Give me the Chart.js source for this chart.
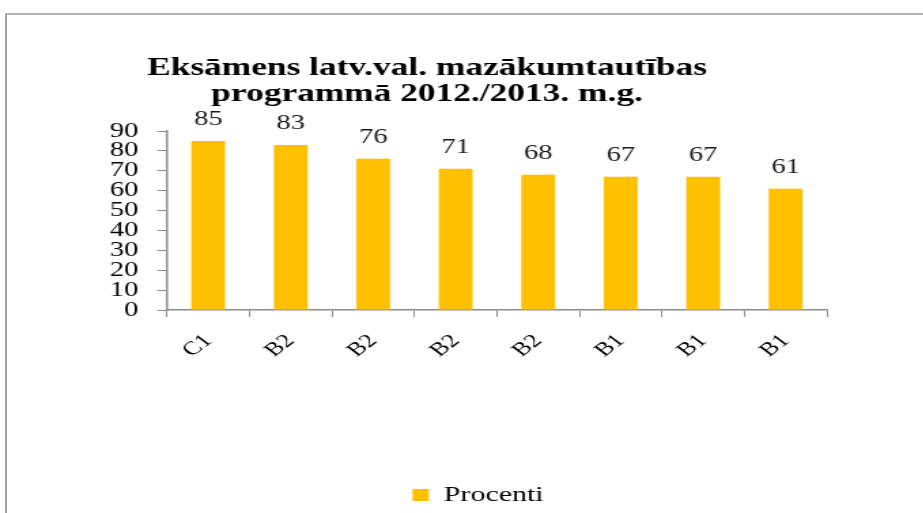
<!DOCTYPE html>
<html>
<head>
<meta charset="utf-8">
<script src="https://cdn.jsdelivr.net/npm/chart.js@4/dist/chart.umd.min.js"></script>
<style>
  html, body { margin: 0; padding: 0; background: #fff; overflow: hidden; }
  #frame { position: absolute; left: 5px; top: 13px; width: 2000px; height: 2000px;
           border-top: 2px solid #b4b4b4; border-left: 2px solid #a0a0a0; }
  #wrap { position: absolute; left: 0; top: 0; width: 679px; height: 513px;
          transform: scaleX(1.36); transform-origin: 0 0; }
</style>
</head>
<body>
<div id="frame"></div>
<div id="wrap"><canvas id="chart" width="679" height="513"></canvas></div>
<script>
  // dati no attēla
  const categories = ['C1', 'B2', 'B2', 'B2', 'B2', 'B1', 'B1', 'B1'];
  const procenti = [85, 83, 76, 71, 68, 67, 67, 61];
  const titleLines = ['Eksāmens latv.val. mazākumtautības', 'programmā 2012./2013. m.g.'];
  const seriesName = 'Procenti';

  const serif = '"Liberation Serif", "Times New Roman", serif';

  // virsraksts
  const titlePlugin = {
    id: 'titleText',
    afterDraw(chart) {
      const ctx = chart.ctx;
      ctx.save();
      ctx.font = 'bold 26px ' + serif;
      ctx.fillStyle = '#000';
      ctx.textAlign = 'center';
      ctx.textBaseline = 'alphabetic';
      ctx.fillText(titleLines[0], 314, 75);
      ctx.fillText(titleLines[1], 314, 101);
      ctx.restore();
    }
  };

  // vērtības virs stabiņiem
  const valueLabels = {
    id: 'valueLabels',
    afterDatasetsDraw(chart) {
      const ctx = chart.ctx;
      const meta = chart.getDatasetMeta(0);
      ctx.save();
      ctx.font = '21px ' + serif;
      ctx.fillStyle = '#1a1a1a';
      ctx.textAlign = 'center';
      ctx.textBaseline = 'middle';
      meta.data.forEach((bar, i) => {
        ctx.fillText(chart.data.datasets[0].data[i], bar.x, bar.y - 21);
      });
      ctx.restore();
    }
  };

  new Chart(document.getElementById('chart').getContext('2d'), {
    type: 'bar',
    data: {
      labels: categories,
      datasets: [{
        label: seriesName,
        data: procenti,
        backgroundColor: '#FFC000',
        borderWidth: 0,
        barPercentage: 0.41,
        categoryPercentage: 1
      }]
    },
    options: {
      responsive: false,
      animation: false,
      devicePixelRatio: 1,
      layout: { padding: { left: 95, right: 71, top: 131, bottom: -3 } },
      plugins: {
        title: { display: false },
        tooltip: { enabled: false },
        legend: {
          position: 'bottom',
          labels: {
            boxWidth: 12,
            boxHeight: 12,
            color: '#000',
            padding: 7,
            font: { family: serif, size: 22 }
          }
        }
      },
      scales: {
        x: {
          grid: { display: true, drawOnChartArea: false, drawTicks: true, tickLength: 7, color: '#8c8c8c', offset: true },
          border: { color: '#8c8c8c', width: 1.5 },
          ticks: {
            color: '#000',
            maxRotation: 45,
            minRotation: 45,
            padding: 13,
            font: { family: serif, size: 19 }
          },
          afterFit(axis) { axis.height = 167; }
        },
        y: {
          min: 0,
          max: 90,
          grid: { display: true, drawOnChartArea: false, drawTicks: true, tickLength: 7, color: '#8c8c8c' },
          border: { color: '#8c8c8c', width: 1.5 },
          ticks: {
            stepSize: 10,
            autoSkip: false,
            color: '#000',
            padding: 14,
            font: { family: serif, size: 21, lineHeight: 1 }
          },
          afterFit(axis) {
            axis.width = 27.8;
            // lai skaitļi pa kreisi no ass netiktu apgriezti
            axis._computeLabelArea = () => null;
          }
        }
      }
    },
    plugins: [titlePlugin, valueLabels]
  });
</script>
</body>
</html>
